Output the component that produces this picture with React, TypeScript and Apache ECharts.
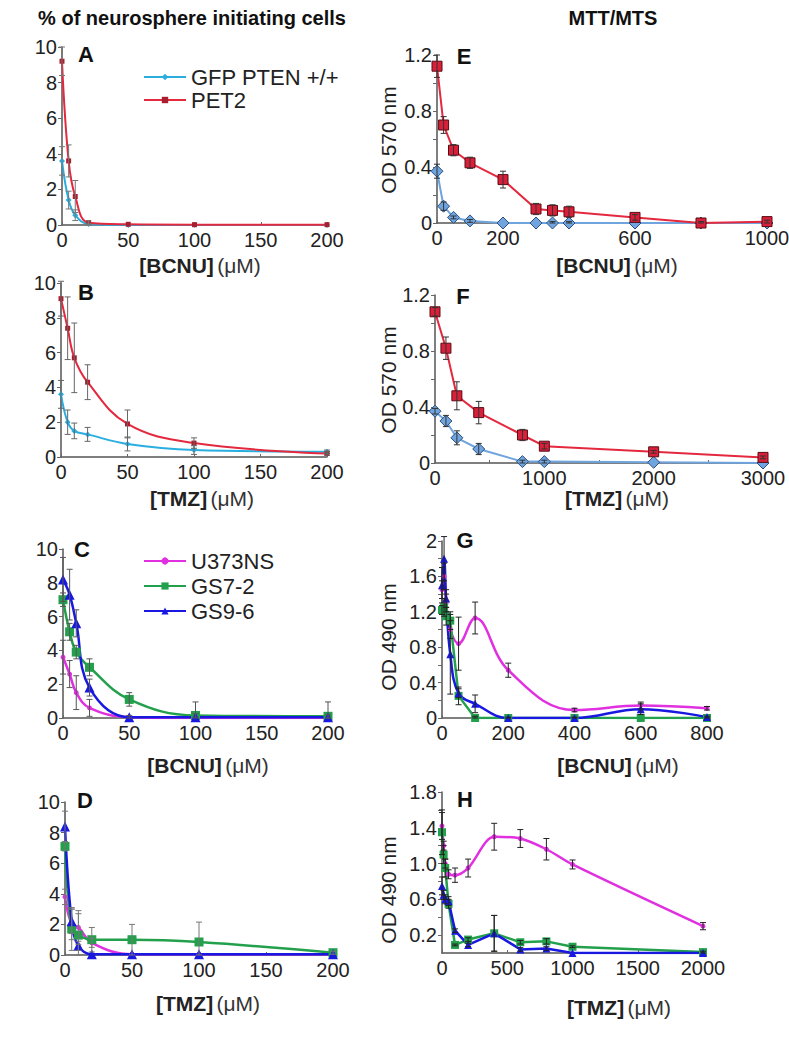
import React, { useEffect, useRef } from 'react';
import * as echarts from 'echarts';

const FONT = '"Liberation Sans", Arial, Helvetica, sans-serif';

// ---------- data ----------
// Panels A-D: neurosphere initiating cells (%), dose in µM
const nsDose = [0, 5, 10, 20, 50, 100, 200];
// A: BCNU
const aGfp = [3.6, 1.4, 0.55, 0.05, 0, 0, 0];
const aGfpErr = [0.8, 0.5, 0.3, 0.05, 0, 0, 0];
const aPet2 = [9.2, 3.6, 1.6, 0.13, 0.04, 0.02, 0.02];
const aPet2Err = [0.8, 0.9, 0.9, 0.1, 0, 0, 0];
// B: TMZ
const bGfp = [3.6, 2.0, 1.5, 1.3, 0.75, 0.4, 0.3];
const bGfpErr = [0.8, 0.7, 0.45, 0.4, 0.4, 0.25, 0.1];
const bPet2 = [9.1, 7.4, 5.7, 4.3, 1.9, 0.8, 0.2];
const bPet2Err = [1.0, 1.8, 2.0, 1.0, 0.8, 0.3, 0.1];
// C: BCNU
const cU373 = [3.6, 2.6, 1.5, 0.6, 0.05, 0, 0];
const cU373Err = [1.0, 0.8, 1.0, 0.5, 0, 0, 0];
const cGs72 = [7.0, 5.1, 3.9, 3.0, 1.1, 0.15, 0.1];
const cGs72Err = [0.4, 0.5, 0.4, 0.5, 0.4, 0.1, 0.1];
const cGs96 = [8.2, 7.3, 5.6, 1.8, 0.05, 0.05, 0.05];
const cGs96Err = [1.3, 1.5, 0.8, 0.5, 0.1, 0.9, 0.9];
// D: TMZ
const dU373 = [3.8, 2.0, 1.8, 0.8, 0.05, 0.05, 0.05];
const dU373Err = [0.5, 1.0, 1.1, 0.3, 0, 0, 0];
const dGs72 = [7.1, 1.7, 1.3, 1.0, 1.0, 0.85, 0.15];
const dGs72Err = [0.3, 1.4, 1.4, 0.8, 1.0, 1.3, 0.1];
const dGs96 = [8.4, 2.2, 0.6, 0.05, 0.05, 0.05, 0.05];
const dGs96Err = [1.0, 0.8, 0.3, 0, 0, 0, 0];

// E: MTT, BCNU
const eDose = [0, 20, 50, 100, 200, 300, 350, 400, 600, 800, 1000];
const ePet2 = [1.12, 0.7, 0.52, 0.43, 0.31, 0.1, 0.09, 0.08, 0.04, 0.0, 0.01];
const ePet2Err = [0.08, 0.06, 0.04, 0.04, 0.06, 0.04, 0.04, 0.04, 0.02, 0.01, 0.01];
const eGfp = [0.37, 0.12, 0.04, 0.015, 0, 0, 0, 0, 0, 0, 0];
const eGfpErr = [0.05, 0.03, 0.01, 0.01, 0, 0, 0.01, 0.01, 0, 0, 0];
// F: MTT, TMZ
const fDose = [0, 100, 200, 400, 800, 1000, 2000, 3000];
const fPet2 = [1.08, 0.82, 0.48, 0.36, 0.2, 0.12, 0.08, 0.04];
const fPet2Err = [0.03, 0.08, 0.1, 0.08, 0.04, 0.02, 0.01, 0.01];
const fGfp = [0.37, 0.3, 0.18, 0.1, 0.01, 0.01, 0.005, 0];
const fGfpErr = [0.02, 0.04, 0.05, 0.04, 0.01, 0.01, 0, 0];
// G: MTS, BCNU
const gDose = [0, 6.25, 12.5, 25, 50, 100, 200, 400, 600, 800];
const gU373 = [1.45, 1.6, 1.3, 1.0, 0.84, 1.13, 0.54, 0.09, 0.14, 0.11];
const gU373Err = [0.1, 0.15, 0.1, 0.1, 0.3, 0.18, 0.08, 0.02, 0.04, 0.02];
const gGs72 = [1.22, 1.25, 1.15, 1.1, 0.25, 0, 0, 0, 0, 0];
const gGs72Err = [0.05, 0.1, 0.1, 0.1, 0.1, 0.02, 0, 0, 0, 0];
const gGs96 = [1.5, 1.8, 1.35, 0.72, 0.28, 0.16, 0, 0, 0.1, 0.01];
const gGs96Err = [0.2, 0.25, 0.1, 0.45, 0.05, 0.1, 0.01, 0.01, 0.06, 0.01];
// H: MTS, TMZ
const hDose = [0, 12.5, 25, 50, 100, 200, 400, 600, 800, 1000, 2000];
const hU373 = [1.42, 1.2, 1.0, 0.88, 0.87, 0.95, 1.3, 1.28, 1.16, 0.99, 0.3];
const hU373Err = [0.15, 0.05, 0.05, 0.05, 0.08, 0.1, 0.15, 0.1, 0.12, 0.05, 0.04];
const hGs72 = [1.35, 1.1, 0.95, 0.55, 0.09, 0.15, 0.22, 0.12, 0.13, 0.07, 0.01];
const hGs72Err = [0.25, 0.1, 0.1, 0.05, 0.01, 0.02, 0.2, 0.02, 0.03, 0.01, 0.01];
const hGs96 = [0.75, 0.65, 0.6, 0.58, 0.25, 0.09, 0.22, 0.04, 0.05, 0.0, 0.0];
const hGs96Err = [0.1, 0.05, 0.05, 0.05, 0.02, 0.02, 0.2, 0.02, 0.02, 0, 0];

const NAME_GFP = 'GFP PTEN +/+';
const NAME_PET2 = 'PET2';
const NAME_U373 = 'U373NS';
const NAME_GS72 = 'GS7-2';
const NAME_GS96 = 'GS9-6';

// ---------- styles ----------
const C_CYAN = '#2aaee0';
const C_RED = '#e4283e';
const C_LBLUE = '#6fa4de';
const C_MAG = '#e030e0';
const C_GREEN = '#23a04c';
const C_BLUE = '#1818e0';

const grids = [
  { left: 62, top: 47, width: 265, height: 178 }, // A
  { left: 61, top: 283, width: 266, height: 174 }, // B
  { left: 63, top: 549, width: 265, height: 169 }, // C
  { left: 65, top: 802, width: 268, height: 153 }, // D
  { left: 437, top: 55, width: 330, height: 168 }, // E
  { left: 435, top: 295, width: 328, height: 168 }, // F
  { left: 442, top: 541, width: 265, height: 177 }, // G
  { left: 442, top: 792, width: 261, height: 161 }, // H
];

type St = {
  line: string;
  fill: string;
  border?: string;
  bw?: number;
  symbol: string;
  size: number;
  width: number;
  smooth: boolean | number;
};

function lineSeries(idx: number, name: string, xs: number[], ys: number[], st: St) {
  return {
    type: 'line',
    name,
    xAxisIndex: idx,
    yAxisIndex: idx,
    data: xs.map((x, i) => [x, ys[i]]),
    smooth: st.smooth,
    symbol: st.symbol,
    symbolSize: st.size,
    showSymbol: true,
    lineStyle: { color: st.line, width: st.width },
    itemStyle: { color: st.fill, borderColor: st.border || st.fill, borderWidth: st.bw || 0 },
    z: 2,
  };
}

function errSeries(idx: number, xs: number[], ys: number[], errs: number[], color = '#333') {
  const data = xs
    .map((x, i) => [x, Math.max(0, ys[i] - errs[i]), ys[i] + errs[i], errs[i]])
    .filter((d) => d[3] > 0);
  return {
    type: 'custom',
    xAxisIndex: idx,
    yAxisIndex: idx,
    silent: true,
    z: 3,
    data,
    encode: { x: 0, y: [1, 2] },
    renderItem: (_p: any, api: any) => {
      const x = api.value(0);
      const p1 = api.coord([x, api.value(1)]);
      const p2 = api.coord([x, api.value(2)]);
      const w = 3;
      const style = { stroke: color, lineWidth: 1 };
      return {
        type: 'group',
        children: [
          { type: 'line', shape: { x1: p1[0], y1: p1[1], x2: p2[0], y2: p2[1] }, style },
          { type: 'line', shape: { x1: p1[0] - w, y1: p1[1], x2: p1[0] + w, y2: p1[1] }, style },
          { type: 'line', shape: { x1: p2[0] - w, y1: p2[1], x2: p2[0] + w, y2: p2[1] }, style },
        ],
      };
    },
  };
}

const labelStyle = { fontSize: 20, color: '#222', fontFamily: FONT };

function xAxis(idx: number, max: number, interval: number, fmt?: (v: number) => string) {
  return {
    type: 'value',
    gridIndex: idx,
    min: 0,
    max,
    interval,
    axisLine: { show: true, lineStyle: { color: '#555', width: 1.5 } },
    axisTick: { show: true, inside: true, length: 3, lineStyle: { color: '#666' } },
    axisLabel: { ...labelStyle, margin: 5, formatter: fmt || ((v: number) => String(v)) },
    splitLine: { show: false },
  };
}

function yAxis(idx: number, max: number, interval: number, fmt?: (v: number) => string) {
  return {
    type: 'value',
    gridIndex: idx,
    min: 0,
    max,
    interval,
    axisLine: { show: true, lineStyle: { color: '#555', width: 1.5 } },
    axisTick: { show: true, length: 4, lineStyle: { color: '#666' } },
    axisLabel: { ...labelStyle, margin: 5, formatter: fmt || ((v: number) => String(v)) },
    splitLine: { show: false },
  };
}

const fmt04 = (v: number) => {
  const t = Math.round(v * 10);
  if (t === 0) return '0';
  return t % 4 === 0 ? (t / 10).toFixed(1) : '';
};
const fmtG = (v: number) => {
  const t = Math.round(v * 10);
  if (t === 0) return '0';
  if (t === 20) return '2';
  return t % 4 === 0 ? (t / 10).toFixed(1) : '';
};
const fmtH = (v: number) => {
  const t = Math.round(v * 10);
  if (t === 0) return '0';
  return (t - 2) % 4 === 0 ? (t / 10).toFixed(1) : '';
};
const fmtE = (v: number) => (v === 400 || v === 800 ? '' : String(v));
const fmtF = (v: number) => (v % 1000 === 0 ? String(v) : '');

function title(text: string, x: number, y: number) {
  return {
    type: 'text',
    x,
    y,
    style: { text, fontFamily: FONT, fontSize: 20, fontWeight: 'bold', fill: '#111', align: 'center', verticalAlign: 'middle' },
  };
}
function letter(text: string, x: number, y: number) {
  return {
    type: 'text',
    x,
    y,
    style: { text, fontFamily: FONT, fontSize: 22, fontWeight: 'bold', fill: '#111', align: 'center', verticalAlign: 'middle' },
  };
}
function xName(drug: string, x: number, y: number) {
  return {
    type: 'text',
    x,
    y,
    style: {
      text: `{b|[${drug}]} {n|(\u03bcM)}`,
      align: 'center',
      verticalAlign: 'middle',
      rich: {
        b: { fontFamily: FONT, fontSize: 21, fontWeight: 'bold', fill: '#222' },
        n: { fontFamily: FONT, fontSize: 21, fill: '#333' },
      },
    },
  };
}
function yName(text: string, x: number, y: number) {
  return {
    type: 'text',
    x,
    y,
    rotation: Math.PI / 2,
    style: { text, fontFamily: FONT, fontSize: 21, fill: '#222', align: 'center', verticalAlign: 'middle' },
  };
}

export default function App() {
  const ref = useRef<HTMLDivElement>(null);
  useEffect(() => {
    if (!ref.current) return;
    const chart = echarts.init(ref.current, undefined, { renderer: 'svg' });

    const sGfpNs: St = { line: C_CYAN, fill: C_CYAN, symbol: 'diamond', size: 6, width: 2, smooth: 0.4 };
    const sPetNs: St = { line: C_RED, fill: '#a82030', symbol: 'rect', size: 5, width: 2, smooth: 0.4 };
    const sGfpMtt: St = { line: C_LBLUE, fill: C_LBLUE, border: '#2d4f80', bw: 1, symbol: 'diamond', size: 12, width: 2, smooth: false };
    const sPetMtt: St = { line: C_RED, fill: '#d8203a', border: '#5a0c14', bw: 1, symbol: 'rect', size: 10, width: 2, smooth: false };
    const sU: St = { line: C_MAG, fill: C_MAG, symbol: 'circle', size: 5, width: 2.5, smooth: 0.4 };
    const sG7: St = { line: C_GREEN, fill: C_GREEN, symbol: 'rect', size: 9, width: 2.5, smooth: 0.4 };
    const sG9: St = { line: C_BLUE, fill: C_BLUE, symbol: 'triangle', size: 10, width: 2.5, smooth: 0.4 };
    const sUh: St = { ...sU, smooth: 0.3 };
    const sG7h: St = { ...sG7, smooth: false, size: 8 };
    const sG9h: St = { ...sG9, smooth: false, size: 8 };

    const series: any[] = [
      // A
      lineSeries(0, NAME_GFP, nsDose, aGfp, sGfpNs),
      lineSeries(0, NAME_PET2, nsDose, aPet2, sPetNs),
      errSeries(0, nsDose, aGfp, aGfpErr, '#777'),
      errSeries(0, nsDose, aPet2, aPet2Err, '#777'),
      // B
      lineSeries(1, NAME_GFP, nsDose, bGfp, sGfpNs),
      lineSeries(1, NAME_PET2, nsDose, bPet2, sPetNs),
      errSeries(1, nsDose, bGfp, bGfpErr, '#666'),
      errSeries(1, nsDose, bPet2, bPet2Err, '#666'),
      // C
      lineSeries(2, NAME_U373, nsDose, cU373, sU),
      lineSeries(2, NAME_GS72, nsDose, cGs72, sG7),
      lineSeries(2, NAME_GS96, nsDose, cGs96, sG9),
      errSeries(2, nsDose, cU373, cU373Err, '#555'),
      errSeries(2, nsDose, cGs72, cGs72Err, '#555'),
      errSeries(2, nsDose, cGs96, cGs96Err, '#555'),
      // D
      lineSeries(3, NAME_U373, nsDose, dU373, sU),
      lineSeries(3, NAME_GS72, nsDose, dGs72, sG7),
      lineSeries(3, NAME_GS96, nsDose, dGs96, sG9),
      errSeries(3, nsDose, dU373, dU373Err, '#777'),
      errSeries(3, nsDose, dGs72, dGs72Err, '#777'),
      errSeries(3, nsDose, dGs96, dGs96Err, '#777'),
      // E
      lineSeries(4, NAME_GFP, eDose, eGfp, sGfpMtt),
      lineSeries(4, NAME_PET2, eDose, ePet2, sPetMtt),
      errSeries(4, eDose, eGfp, eGfpErr, '#333'),
      errSeries(4, eDose, ePet2, ePet2Err, '#333'),
      // F
      lineSeries(5, NAME_GFP, fDose, fGfp, sGfpMtt),
      lineSeries(5, NAME_PET2, fDose, fPet2, sPetMtt),
      errSeries(5, fDose, fGfp, fGfpErr, '#333'),
      errSeries(5, fDose, fPet2, fPet2Err, '#333'),
      // G
      lineSeries(6, NAME_U373, gDose, gU373, sU),
      lineSeries(6, NAME_GS72, gDose, gGs72, sG7h),
      lineSeries(6, NAME_GS96, gDose, gGs96, { ...sG9, size: 8 }),
      errSeries(6, gDose, gU373, gU373Err, '#222'),
      errSeries(6, gDose, gGs72, gGs72Err, '#222'),
      errSeries(6, gDose, gGs96, gGs96Err, '#222'),
      // H
      lineSeries(7, NAME_U373, hDose, hU373, sUh),
      lineSeries(7, NAME_GS72, hDose, hGs72, sG7h),
      lineSeries(7, NAME_GS96, hDose, hGs96, sG9h),
      errSeries(7, hDose, hU373, hU373Err, '#222'),
      errSeries(7, hDose, hGs72, hGs72Err, '#222'),
      errSeries(7, hDose, hGs96, hGs96Err, '#222'),
    ];

    const option: any = {
      animation: false,
      backgroundColor: '#fff',
      grid: grids.map((g) => ({ ...g, containLabel: false, outerBoundsMode: 'none' })),
      xAxis: [
        xAxis(0, 200, 50),
        xAxis(1, 200, 50),
        xAxis(2, 200, 50),
        xAxis(3, 200, 50),
        xAxis(4, 1000, 200, fmtE),
        xAxis(5, 3000, 500, fmtF),
        xAxis(6, 800, 200),
        xAxis(7, 2000, 500),
      ],
      yAxis: [
        yAxis(0, 10, 2),
        yAxis(1, 10, 2),
        yAxis(2, 10, 2),
        yAxis(3, 10, 2),
        yAxis(4, 1.2, 0.2, fmt04),
        yAxis(5, 1.2, 0.2, fmt04),
        yAxis(6, 2, 0.2, fmtG),
        yAxis(7, 1.8, 0.2, fmtH),
      ],
      legend: [
        {
          data: [NAME_GFP, NAME_PET2],
          orient: 'vertical',
          left: 138,
          top: 61,
          itemWidth: 42,
          itemHeight: 8,
          itemGap: 1,
          textStyle: { fontFamily: FONT, fontSize: 22, color: '#222' },
        },
        {
          data: [NAME_U373, NAME_GS72, NAME_GS96],
          orient: 'vertical',
          left: 138,
          top: 545,
          itemWidth: 42,
          itemHeight: 9,
          itemGap: 3,
          textStyle: { fontFamily: FONT, fontSize: 22, color: '#222' },
        },
      ],
      graphic: [
        title('% of neurosphere initiating cells', 192, 18),
        title('MTT/MTS', 613, 18),
        letter('A', 86, 54),
        letter('B', 86, 292),
        letter('C', 82, 549),
        letter('D', 85, 800),
        letter('E', 464, 56),
        letter('F', 463, 296),
        letter('G', 465, 540),
        letter('H', 465, 799),
        xName('BCNU', 200, 265),
        xName('TMZ', 202, 498),
        xName('BCNU', 208, 765),
        xName('TMZ', 208, 1003),
        xName('BCNU', 617, 265),
        xName('TMZ', 617, 498),
        xName('BCNU', 618, 765),
        xName('TMZ', 619, 1007),
        yName('OD 570 nm', 388, 140),
        yName('OD 570 nm', 388, 380),
        yName('OD 490 nm', 388, 637),
        yName('OD 490 nm', 388, 890),
      ],
      series,
    };
    chart.setOption(option);
    return () => chart.dispose();
  }, []);
  return (
    <div
      ref={ref}
      style={{ position: 'absolute', left: 0, top: 0, width: 789, height: 1050, background: '#fff' }}
    />
  );
}
